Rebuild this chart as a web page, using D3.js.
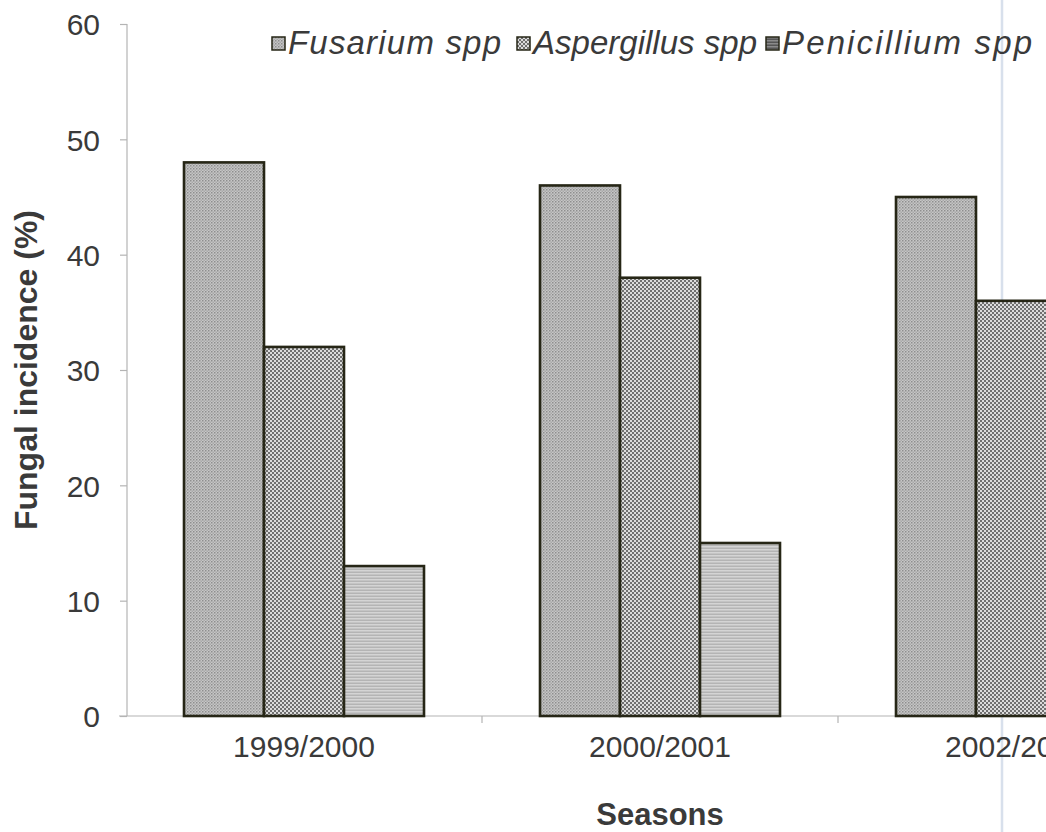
<!DOCTYPE html>
<html>
<head>
<meta charset="utf-8">
<script src="https://cdn.jsdelivr.net/npm/d3@7"></script>
<style>
  html, body { margin: 0; padding: 0; background: #fff; overflow: hidden; }
  svg { display: block; }
</style>
</head>
<body>
<svg id="chart" width="1046" height="832"></svg>
<script>
// Fungal incidence per season
const seasons = ["1999/2000", "2000/2001", "2002/2003"];
const fungi = ["Fusarium spp", "Aspergillus spp", "Penicillium spp"];
const fusarium = [48, 46, 45];
const aspergillus = [32, 38, 36];
const penicillium = [13, 15, 14];
const yTicks = [0, 10, 20, 30, 40, 50, 60];

const seriesValues = [fusarium, aspergillus, penicillium];
const rows = seasons.map((s, i) => ({
  season: s,
  values: fungi.map((f, j) => ({ key: f, idx: j, value: seriesValues[j][i] }))
}));

const svg = d3.select("#chart");
const defs = svg.append("defs");
const font = "Liberation Sans, Arial, sans-serif";

// Fill textures for the three fungi
const p1 = defs.append("pattern").attr("id", "pat0").attr("patternUnits", "userSpaceOnUse")
  .attr("width", 3).attr("height", 3);
p1.append("rect").attr("width", 3).attr("height", 3).attr("fill", "#c6c6c6");
p1.append("rect").attr("width", 1.5).attr("height", 1.5).attr("fill", "#8e8e8e");
p1.append("rect").attr("x", 1.5).attr("y", 1.5).attr("width", 1.5).attr("height", 1.5).attr("fill", "#a8a8a8");

const p2 = defs.append("pattern").attr("id", "pat1").attr("patternUnits", "userSpaceOnUse")
  .attr("width", 4).attr("height", 4);
p2.append("rect").attr("width", 4).attr("height", 4).attr("fill", "#dcdcdc");
p2.append("rect").attr("width", 2).attr("height", 2).attr("fill", "#707070");
p2.append("rect").attr("x", 2).attr("y", 2).attr("width", 2).attr("height", 2).attr("fill", "#707070");

const p3 = defs.append("pattern").attr("id", "pat2").attr("patternUnits", "userSpaceOnUse")
  .attr("width", 4).attr("height", 3);
p3.append("rect").attr("width", 4).attr("height", 3).attr("fill", "#d4d4d4");
p3.append("rect").attr("y", 1.5).attr("width", 4).attr("height", 1.5).attr("fill", "#b4b4b4");

// Darker variant of the horizontal-line fill for the small legend key
const p3k = defs.append("pattern").attr("id", "pat2k").attr("patternUnits", "userSpaceOnUse")
  .attr("width", 4).attr("height", 3);
p3k.append("rect").attr("width", 4).attr("height", 3).attr("fill", "#8a8a8a");
p3k.append("rect").attr("y", 1.5).attr("width", 4).attr("height", 1.5).attr("fill", "#555");

const margin = { left: 127, top: 24 };
const plotH = 692;
const step = 356;

const x0 = d3.scaleBand().domain(seasons)
  .range([margin.left - 1, margin.left - 1 + step * seasons.length]).paddingInner(0).paddingOuter(0);
const groupW = 240;
const x1 = d3.scaleBand().domain(fungi).range([0, groupW]).padding(0);
const y = d3.scaleLinear().domain([0, 60]).range([margin.top + plotH, margin.top]);

const axisColor = "#b4b4b4";
const textColor = "#3a3a3a";

// Faint vertical streak on the page, beneath the marks
svg.append("line").attr("x1", 1002).attr("y1", 0).attr("x2", 1002).attr("y2", 832)
  .attr("stroke", "#d8e0ec").attr("stroke-width", 2.5);

// Y axis
const yAxis = svg.append("g").attr("transform", `translate(${margin.left},0)`)
  .call(d3.axisLeft(y).tickValues(yTicks).tickSize(7).tickPadding(20));
yAxis.select(".domain").attr("stroke", axisColor).attr("stroke-width", 1.2)
  .attr("d", `M0,${y(60)}V${y(0)}`);
yAxis.selectAll(".tick line").attr("stroke", axisColor).attr("stroke-width", 1.2);
yAxis.selectAll(".tick text").attr("fill", textColor)
  .style("font-family", font).style("font-size", "30px")
  .attr("dy", "0.36em");

// X axis with ticks at group boundaries
const xAxisG = svg.append("g").attr("transform", `translate(0,${y(0)})`);
xAxisG.append("line").attr("x1", margin.left - 8).attr("x2", 1100)
  .attr("stroke", axisColor).attr("stroke-width", 1.2);
xAxisG.selectAll("line.tk").data(seasons.slice(1)).join("line").attr("class", "tk")
  .attr("x1", d => x0(d)).attr("x2", d => x0(d)).attr("y1", 0).attr("y2", 7)
  .attr("stroke", axisColor).attr("stroke-width", 1.2);
xAxisG.selectAll("text").data(seasons).join("text")
  .attr("x", d => x0(d) + x0.bandwidth() / 2).attr("y", 41)
  .attr("text-anchor", "middle").attr("fill", textColor)
  .style("font-family", font).style("font-size", "30px")
  .text(d => d);

// Bars
const groups = svg.append("g").selectAll("g").data(rows).join("g")
  .attr("transform", d => `translate(${x0(d.season) + (x0.bandwidth() - groupW) / 2},0)`);
groups.selectAll("rect").data(d => d.values).join("rect")
  .attr("x", d => x1(d.key))
  .attr("y", d => y(d.value))
  .attr("width", x1.bandwidth())
  .attr("height", d => y(0) - y(d.value))
  .attr("fill", d => `url(#pat${d.idx})`)
  .attr("stroke", "#262616").attr("stroke-width", 2.6);

// Axis titles
svg.append("text")
  .attr("transform", `translate(37,370) rotate(-90)`)
  .attr("text-anchor", "middle").attr("fill", textColor)
  .style("font-family", font).style("font-size", "32px")
  .style("font-weight", "bold").text("Fungal incidence (%)");
svg.append("text")
  .attr("x", 660).attr("y", 825).attr("text-anchor", "middle").attr("fill", textColor)
  .style("font-family", font).style("font-size", "31px")
  .style("font-weight", "bold").text("Seasons");

// Legend: key positions and the run length of each entry's label
const legendX = [272, 517, 766];
const legendTextLen = [213, 224, 250];
const legend = svg.append("g").selectAll("g").data(fungi).join("g")
  .attr("transform", (d, i) => `translate(${legendX[i]},37)`);
legend.append("rect").attr("width", 13).attr("height", 13)
  .attr("fill", (d, i) => i === 2 ? "url(#pat2k)" : `url(#pat${i})`)
  .attr("stroke", "#262616").attr("stroke-width", 1.5);
legend.append("text").attr("x", 16).attr("y", 17).attr("fill", textColor)
  .attr("textLength", (d, i) => legendTextLen[i]).attr("lengthAdjust", "spacing")
  .style("font-family", font).style("font-size", "33px")
  .style("font-style", "italic").text(d => d);
</script>
</body>
</html>
